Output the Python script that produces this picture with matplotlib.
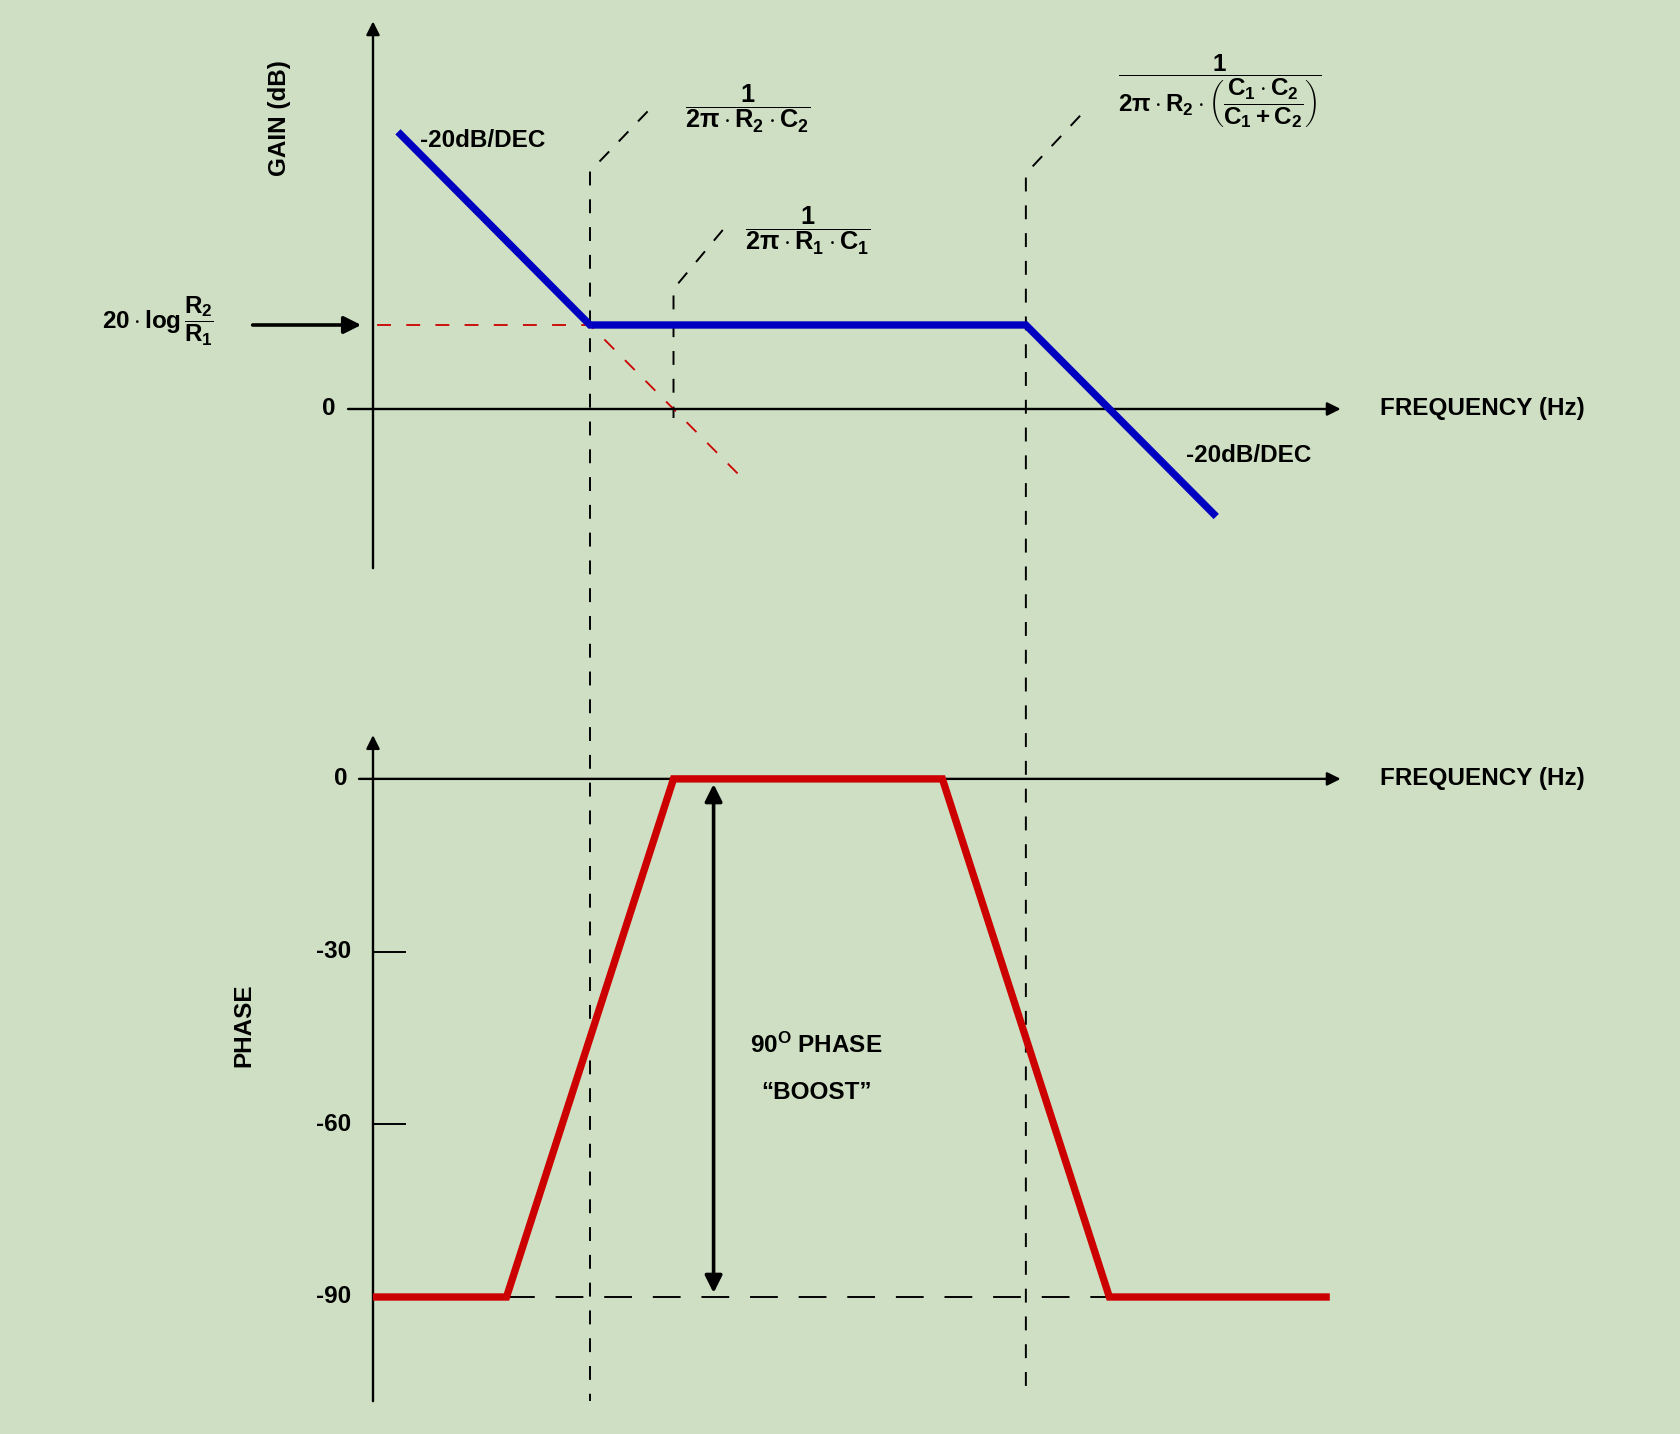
import matplotlib
matplotlib.use("Agg")
import matplotlib.pyplot as plt
from matplotlib.transforms import blended_transform_factory

# ---------------- data (x = log10 frequency, Hz) ----------------
f_z1 = 2.0      # 1/(2*pi*R2*C2)
f_z2 = 3.0      # 1/(2*pi*R1*C1)
f_p = 7.22      # 1/(2*pi*R2*(C1*C2/(C1+C2)))

gain_x = [-0.3, 2.0, 7.22, 9.5]
gain_db = [66.0, 20.0, 20.0, -25.6]

asym_x = [-0.55, 2.0, 3.77]
asym_db = [20.0, 20.0, -15.4]

phase_x = [-0.6, 1.0, 3.0, 6.22, 8.22, 10.86]
phase_deg = [-90, -90, 0, 0, -90, -90]

phase_ticks = [-30, -60]
phase_tick_labels = ["0", "-30", "-60", "-90"]
phase_tick_values = [0, -30, -60, -90]

# ---------------- style ----------------
BG = "#CFDFC3"
BLUE = "#0000C0"
RED = "#CC0000"
FS = 17.5
FS_F = 18.3
plt.rcParams["font.family"] = ["Liberation Sans", "DejaVu Sans"]
plt.rcParams["font.weight"] = "bold"
plt.rcParams["mathtext.fontset"] = "custom"
plt.rcParams["mathtext.rm"] = "Liberation Sans:bold"
plt.rcParams["mathtext.it"] = "Liberation Sans:bold"
plt.rcParams["mathtext.bf"] = "Liberation Sans:bold"
plt.rcParams["mathtext.sf"] = "Liberation Sans:bold"
plt.rcParams["lines.scale_dashes"] = False

W, H = 1680, 1434
fig = plt.figure(figsize=(W / 100, H / 100), dpi=100, facecolor=BG)

XLIM = (-5.066, 15.054)
ax_g = fig.add_axes([0, 0, 1, 1])
ax_p = fig.add_axes([0, 0, 1, 1])
for ax in (ax_g, ax_p):
    ax.set_xlim(*XLIM)
    ax.set_axis_off()
    ax.patch.set_alpha(0)
ax_g.set_ylim(-244.05, 97.38)
ax_p.set_ylim(-113.8, 135.3)

x_axis0 = -0.599  # position of the vertical axes

def fy(px):
    return 1 - px / H

# ---------------- guide lines (dashed) ----------------
tr = blended_transform_factory(ax_g.transData, fig.transFigure)
guides = [
    (f_z1, 2.69, 111.4, 171.4, 1401),
    (f_z2, 3.59, 230, 289, 418),
    (f_p, 7.87, 115.7, 173.6, 1393),
]
for xv, xd, yd, yt, yb in guides:
    ax_g.plot([xd, xv, xv], [fy(yd), fy(yt), fy(yb)], transform=tr,
              color="black", lw=1.4, dashes=(10, 10), zorder=1)

# ---------------- gain panel ----------------
ax_g.annotate("", xy=(x_axis0, 92.3), xytext=(x_axis0, -37.9),
              arrowprops=dict(arrowstyle="-|>", lw=1.7, color="black",
                              mutation_scale=20, shrinkA=0, shrinkB=0))
ax_g.annotate("", xy=(10.99, 0), xytext=(-0.898, 0),
              arrowprops=dict(arrowstyle="-|>", lw=1.7, color="black",
                              mutation_scale=20, shrinkA=0, shrinkB=0))
ax_g.plot(asym_x, asym_db, color=RED, lw=1.3, dashes=(10, 11), zorder=2)
ax_g.plot(gain_x, gain_db, color=BLUE, lw=5.3, solid_joinstyle="miter",
          solid_capstyle="butt", zorder=3)

ax_g.text(-0.036, 64.0, "-20dB/DEC", fontsize=FS, ha="left", va="center")
ax_g.text(9.14, -11, "-20dB/DEC", fontsize=FS, ha="left", va="center")
ax_g.text(11.46, 0, "FREQUENCY (Hz)", fontsize=FS, ha="left", va="center")
ax_g.text(-1.05, 0, "0", fontsize=FS, ha="right", va="center")
ax_g.text(-1.72, 69.3, "GAIN (dB)", fontsize=FS, ha="center", va="center",
          rotation=90)

# left label and arrow
ax_g.text(-3.84, 20.8, r"$20\cdot\log\dfrac{R_2}{R_1}$", fontsize=FS,
          ha="left", va="center")
ax_g.annotate("", xy=(-0.74, 20), xytext=(-2.04, 20),
              arrowprops=dict(arrowstyle="-|>", lw=2.6, color="black",
                              mutation_scale=26, shrinkA=0, shrinkB=0))

# corner-frequency formulas
ax_g.text(3.89, 71.5, r"$\dfrac{1}{2\pi\cdot R_2\cdot C_2}$", fontsize=FS_F,
          ha="center", va="center")
ax_g.text(4.61, 42.5, r"$\dfrac{1}{2\pi\cdot R_1\cdot C_1}$", fontsize=FS_F,
          ha="center", va="center")
ax_g.text(9.54, 75.8,
          r"$\dfrac{1}{2\pi\cdot R_2\cdot\left(\dfrac{C_1\cdot C_2}{C_1+C_2}\right)}$",
          fontsize=FS, ha="center", va="center")

# ---------------- phase panel ----------------
ax_p.annotate("", xy=(x_axis0, 7.6), xytext=(x_axis0, -108.1),
              arrowprops=dict(arrowstyle="-|>", lw=1.7, color="black",
                              mutation_scale=20, shrinkA=0, shrinkB=0))
ax_p.annotate("", xy=(10.99, 0), xytext=(-0.766, 0),
              arrowprops=dict(arrowstyle="-|>", lw=1.7, color="black",
                              mutation_scale=20, shrinkA=0, shrinkB=0))
for t in phase_ticks:
    ax_p.plot([x_axis0, -0.216], [t, t], color="black", lw=1.4)
for t, lab in zip(phase_tick_values, phase_tick_labels):
    xr = -0.91 if t == 0 else -0.86
    ax_p.text(xr, t, lab, fontsize=FS, ha="right", va="center")

ax_p.plot([phase_x[1], phase_x[4]], [-90, -90], color="black", lw=1.4,
          dashes=(20, 15), zorder=1)
ax_p.plot(phase_x, phase_deg, color=RED, lw=5.3, solid_joinstyle="miter",
          solid_capstyle="butt", zorder=3)

ax_p.annotate("", xy=(3.48, -0.9), xytext=(3.48, -89.3),
              arrowprops=dict(arrowstyle="<|-|>", lw=2.6, color="black",
                              mutation_scale=26, shrinkA=0, shrinkB=0))

ax_p.text(11.46, 0, "FREQUENCY (Hz)", fontsize=FS, ha="left", va="center")
ax_p.text(-2.14, -42.7, "PHASE", fontsize=FS, ha="center", va="center",
          rotation=90)
ax_p.text(4.71, -46.3, r"90$^{\mathrm{O}}$ PHASE", fontsize=FS,
          ha="center", va="center")
ax_p.text(4.71, -54.5, "\u201cBOOST\u201d", fontsize=FS, ha="center",
          va="center")

fig.savefig("out.png", dpi=100, facecolor=BG)
